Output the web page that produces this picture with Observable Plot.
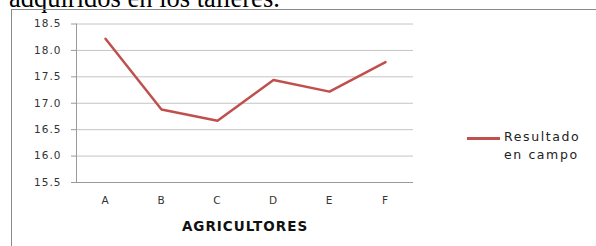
<!DOCTYPE html>
<html>
<head>
<meta charset="utf-8">
<script src="https://cdn.jsdelivr.net/npm/d3@7"></script>
<script src="https://cdn.jsdelivr.net/npm/@observablehq/plot@0.6"></script>
<style>
  html, body { margin: 0; padding: 0; background: #fff; }
  #wrap { position: relative; width: 596px; height: 246px; overflow: hidden; background: #fff; }
  #above { position: absolute; left: 9px; top: -15.5px; font: 26.5px/26.5px "Liberation Serif", "Times New Roman", serif; color: #000; white-space: nowrap; }
  #box { position: absolute; left: 11px; top: 9px; width: 700px; height: 400px; border: 1.5px solid #8a8a8a; box-sizing: border-box; }
  #chart { position: absolute; left: 0; top: 0; }
  #legend { position: absolute; left: 467px; top: 128px; font: 12.5px "DejaVu Sans", sans-serif; color: #222; letter-spacing: 1.6px; }
  #legend .sw { position: absolute; left: 0; top: 9px; width: 33px; height: 2.5px; background: #c0504d; }
  #legend .tx { position: absolute; left: 37px; top: 0; line-height: 18px; white-space: nowrap; }
</style>
</head>
<body>
<div id="wrap">
  <div id="above">adquiridos en los talleres.</div>
  <div id="box"></div>
  <div id="chart"></div>
  <div id="legend"><div class="sw"></div><div class="tx">Resultado<br>en campo</div></div>
</div>
<script>
const categories = ["A", "B", "C", "D", "E", "F"];
const values = [18.22, 16.88, 16.67, 17.44, 17.22, 17.78];
const yTicks = [15.5, 16.0, 16.5, 17.0, 17.5, 18.0, 18.5];
const xTitle = ["AGRICULTORES"];

const data = categories.map((c, i) => ({cat: c, val: values[i]}));

const chart = Plot.plot({
  width: 596,
  height: 246,
  marginLeft: 76,
  marginRight: 183,
  marginTop: 23.5,
  marginBottom: 64,
  style: {background: "transparent", fontFamily: "'DejaVu Sans', sans-serif", fontSize: "10.5px", color: "#333", letterSpacing: "1px"},
  x: {type: "point", domain: categories, padding: 0.5, label: null},
  y: {domain: [15.5, 18.5], label: null},
  marks: [
    Plot.gridY(yTicks, {stroke: "#c4c4c4", strokeOpacity: 1, strokeWidth: 1}),
    Plot.frame({anchor: "left", stroke: "#9a9a9a", strokeWidth: 1}),
    Plot.axisY(yTicks, {tickSize: 5, tickPadding: 10, tickFormat: d3.format(".1f"), stroke: "#9a9a9a", fill: "#333", label: null}),
    Plot.axisX({tickSize: 0, tickPadding: 14, fill: "#333", label: null}),
    Plot.ruleY([15.5], {stroke: "#9a9a9a", strokeWidth: 1}),
    Plot.line(data, {x: "cat", y: "val", stroke: "#c0504d", strokeWidth: 2.5}),
    Plot.text(xTitle, {frameAnchor: "bottom", dy: 48, fontWeight: "bold", fontSize: 13.5, fill: "#111", style: "letter-spacing:0.6px"})
  ]
});
document.getElementById("chart").appendChild(chart);
</script>
</body>
</html>
